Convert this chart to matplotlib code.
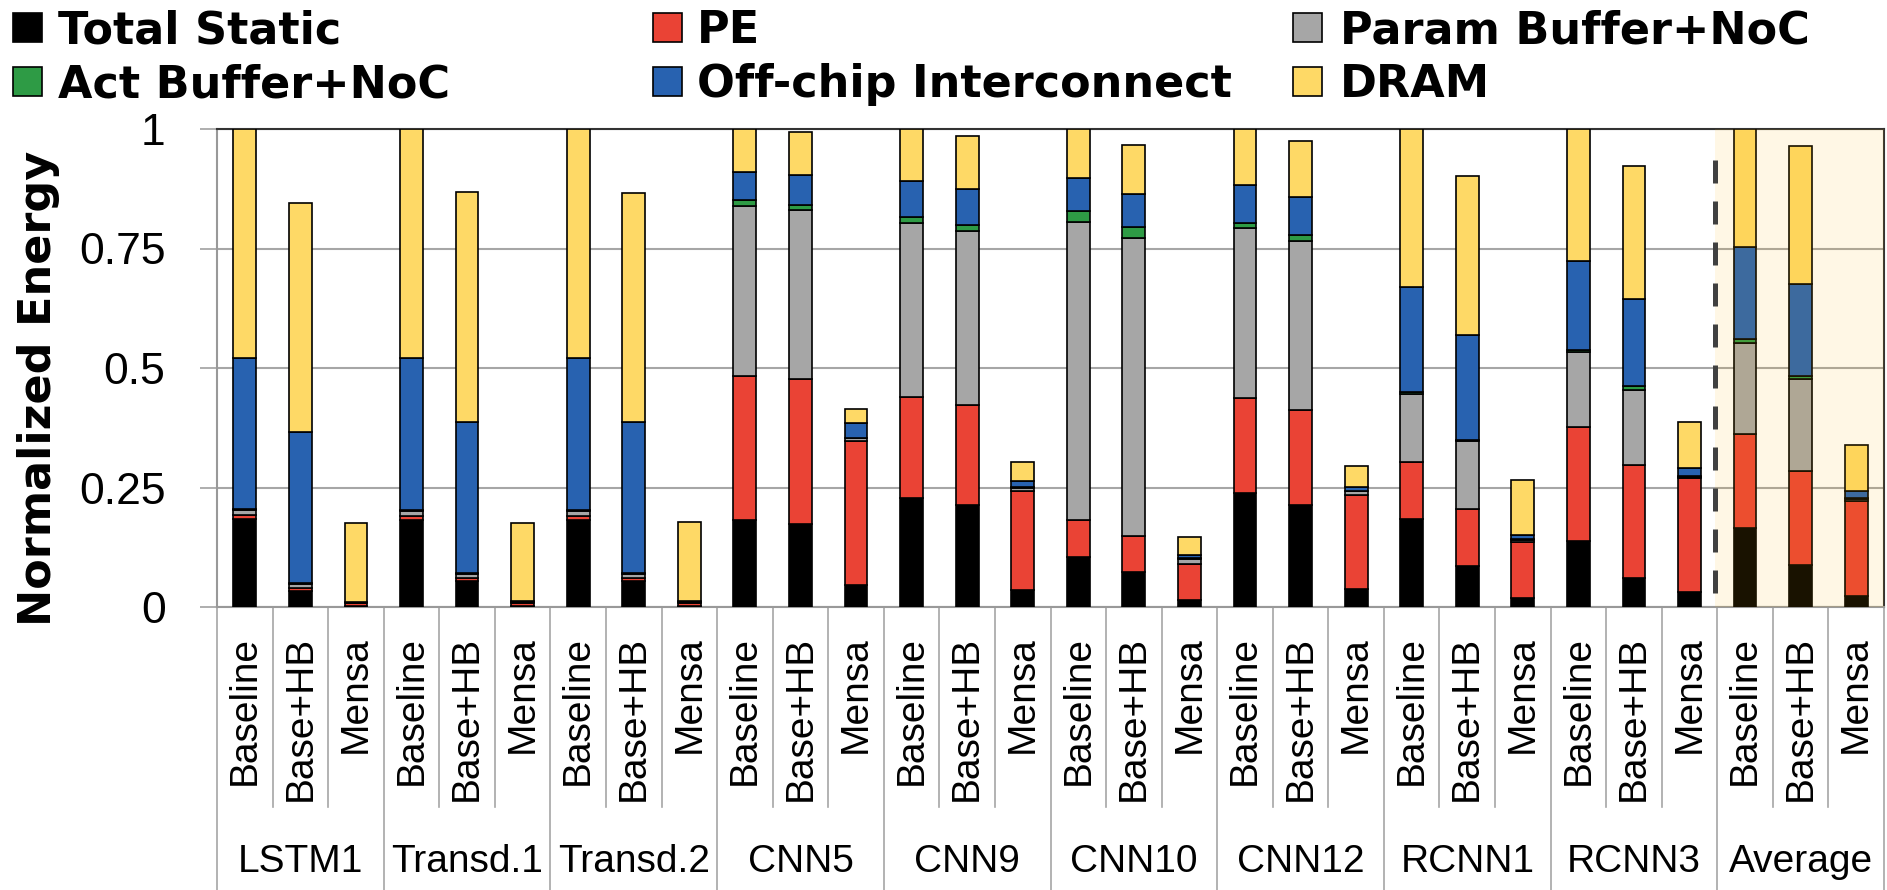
import numpy as np
import matplotlib.pyplot as plt
from matplotlib import font_manager
from matplotlib.patches import Rectangle

# workloads and the three configurations run on each
groups = ["LSTM1", "Transd.1", "Transd.2", "CNN5", "CNN9", "CNN10",
          "CNN12", "RCNN1", "RCNN3", "Average"]
configs = ["Baseline", "Base+HB", "Mensa"]

# energy breakdown, normalized to Baseline (3 bars per workload)
static = [0.185, 0.033, 0.002,  0.183, 0.055, 0.002,  0.183, 0.054, 0.002,
          0.183, 0.174, 0.047,  0.229, 0.213, 0.035,  0.105, 0.073, 0.014,
          0.238, 0.214, 0.038,  0.184, 0.085, 0.019,  0.139, 0.060, 0.031,
          0.165, 0.087, 0.024]
pe = [0.007, 0.006, 0.006,  0.007, 0.006, 0.007,  0.007, 0.006, 0.007,
      0.300, 0.302, 0.300,  0.210, 0.210, 0.208,  0.078, 0.076, 0.077,
      0.199, 0.198, 0.197,  0.119, 0.119, 0.118,  0.238, 0.238, 0.239,
      0.197, 0.197, 0.197]
param_buf = [0.010, 0.009, 0.001,  0.010, 0.009, 0.001,  0.010, 0.009, 0.001,
             0.355, 0.355, 0.006,  0.364, 0.364, 0.007,  0.622, 0.622, 0.010,
             0.355, 0.354, 0.007,  0.143, 0.143, 0.004,  0.156, 0.157, 0.003,
             0.190, 0.192, 0.005]
act_buf = [0.002, 0.002, 0.0005,  0.002, 0.002, 0.0005,  0.002, 0.002, 0.0005,
           0.013, 0.011, 0.001,  0.013, 0.013, 0.002,  0.024, 0.024, 0.001,
           0.011, 0.013, 0.001,  0.003, 0.003, 0.001,  0.005, 0.007, 0.001,
           0.009, 0.007, 0.002]
offchip = [0.317, 0.317, 0.002,  0.319, 0.316, 0.002,  0.319, 0.316, 0.002,
           0.060, 0.062, 0.030,  0.075, 0.074, 0.012,  0.068, 0.070, 0.007,
           0.080, 0.079, 0.009,  0.220, 0.220, 0.009,  0.185, 0.183, 0.017,
           0.193, 0.192, 0.014]
dram = [0.479, 0.478, 0.165,  0.479, 0.480, 0.164,  0.479, 0.480, 0.165,
        0.089, 0.089, 0.031,  0.109, 0.111, 0.039,  0.103, 0.102, 0.037,
        0.117, 0.117, 0.042,  0.331, 0.331, 0.115,  0.277, 0.277, 0.096,
        0.246, 0.290, 0.097]

components = ["Total Static", "PE", "Param Buffer+NoC",
              "Act Buffer+NoC", "Off-chip Interconnect", "DRAM"]
series = [static, pe, param_buf, act_buf, offchip, dram]
colors = ["#000000", "#EA4335", "#A6A6A6", "#2E9B45", "#2862B0", "#FED966"]

available = {f.name for f in font_manager.fontManager.ttflist}
narrow = "Liberation Sans Narrow" if "Liberation Sans Narrow" in available else "Liberation Sans"

W, H = 1887, 890
fig = plt.figure(figsize=(W / 100, H / 100), dpi=100)
ax = fig.add_axes([217 / W, 1 - 607 / H, (1884 - 217) / W, (607 - 129) / H])

x = np.arange(len(static))
bottom = np.zeros(len(static))
for vals, col in zip(series, colors):
    vals = np.array(vals)
    ax.bar(x, vals, 0.41, bottom=bottom, color=col, edgecolor="black",
           linewidth=1.2, zorder=3)
    bottom += vals

# highlight the average group
ax.axvspan(26.45, 29.5, color="#FFB400", alpha=0.1, lw=0, zorder=4)
ax.plot([26.45, 26.45], [0.03, 0.96], color="#404040", lw=3.6,
        dashes=(4.6, 3.6), zorder=5)

ax.set_xlim(-0.5, 29.5)
ax.set_ylim(0, 1)
ax.set_xticks([])
ax.set_yticks([0, 0.25, 0.5, 0.75, 1])
ax.set_yticklabels(["0", "0.25", "0.5", "0.75", "1"], family=narrow, fontsize=32)
ax.tick_params(axis="y", length=12, width=1.1, color="#999999", pad=25)
ax.set_axisbelow(True)
ax.yaxis.grid(True, color="#A6A6A6", lw=1.5)
for side in ["top", "right"]:
    ax.spines[side].set_color("#333333")
    ax.spines[side].set_linewidth(1.5)
for side in ["left", "bottom"]:
    ax.spines[side].set_color("#999999")
    ax.spines[side].set_linewidth(1.5)

# two-level category table under the bars
trans = ax.get_xaxis_transform()
for k in range(len(static) + 1):
    y_end = -0.592 if k % 3 == 0 else -0.418
    ax.plot([k - 0.5, k - 0.5], [0, y_end], transform=trans, color="#A6A6A6",
            lw=1.2, clip_on=False)
for i in x:
    ax.text(i, -0.061, configs[i % 3], rotation=90, ha="center", va="top",
            transform=trans, fontsize=28, family=narrow)
for g, name in enumerate(groups):
    ax.text(3 * g + 1, -0.533, name, ha="center", va="center",
            transform=trans, fontsize=28, family=narrow)

fig.text(39 / W, 1 - 388 / H, "Normalized Energy", rotation=90, ha="center",
         va="center", fontsize=32, fontweight="bold")

# legend laid out in three columns
sq_x = [13, 653, 1293]
txt_x = [58, 697, 1340]
sq_top = [13, 67]
base_y = [43, 97]
sq = 29
for i, (name, col) in enumerate(zip(components, colors)):
    r, c = divmod(i, 3)
    fig.add_artist(Rectangle((sq_x[c] / W, 1 - (sq_top[r] + sq) / H), sq / W, sq / H,
                             transform=fig.transFigure, facecolor=col,
                             edgecolor="black", lw=1.2))
    fig.text(txt_x[c] / W, 1 - base_y[r] / H, name, ha="left", va="baseline",
             fontsize=32, fontweight="bold")

fig.savefig("out.png", dpi=100)
